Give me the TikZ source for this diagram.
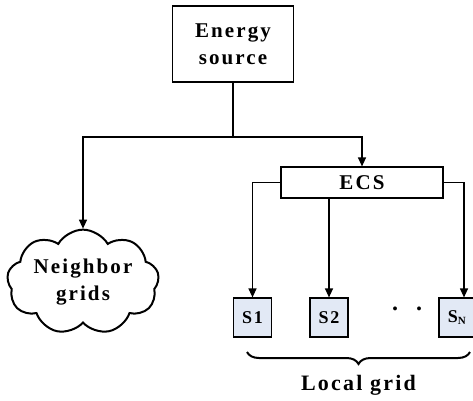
\documentclass[tikz,border=0pt]{standalone}
\usepackage{fontspec}
\setmainfont{Liberation Serif}[LetterSpace=10]
\usetikzlibrary{shapes.symbols,arrows.meta,decorations.pathreplacing}
\definecolor{sfill}{HTML}{E2E9F5}
\begin{document}
\begin{tikzpicture}[x=1pt,y=-1pt,
  every node/.style={font=\bfseries\fontsize{21}{27}\selectfont},
  box/.style={draw,line width=1.2pt,inner sep=0pt},
  sbox/.style={box,fill=sfill,minimum width=38pt,minimum height=39pt,font=\bfseries\fontsize{18}{18}\selectfont},
  conn/.style={line width=1.2pt},
  arr/.style={conn,-{Triangle[length=9pt,width=8pt]}}]
\useasboundingbox (0,0) rectangle (473,400);
\node[box,minimum width=121pt,minimum height=76pt,align=center] (es) at (233,44) {Energy\\source};
\node[box,minimum width=162pt,minimum height=31pt] (ecs) at (362,182.5) {ECS};
\node[cloud,draw,line width=2pt,cloud puffs=9,cloud puff arc=120,minimum width=152pt,minimum height=92pt,aspect=1.7,align=center,inner sep=0pt] (ng) at (83,282) {Neighbor\\grids};
\node[sbox] (s1) at (252.5,317.5) {S1};
\node[sbox] (s2) at (329,317.5) {S2};
\node[sbox,minimum width=36pt] (sn) at (457,317.5) {S\textsubscript{\fontsize{11}{11}\selectfont N}};
\node[font=\bfseries\fontsize{24}{24}\selectfont] (d1) at (395,309) {.};
\node[font=\bfseries\fontsize{24}{24}\selectfont] (d2) at (419,309) {.};
\coordinate (j) at (233,137);
\draw[conn] (es.south) -- (j);
\draw[arr] (j) -| (ng.north);
\draw[arr] (j) -| (ecs.north);
\draw[arr] (ecs.west) -| (s1.north);
\draw[arr] (ecs.south -| s2.north) -- (s2.north);
\draw[arr] (ecs.east) -| ([xshift=7pt]sn.north);
\draw[conn,line width=2pt,decorate,decoration={brace,mirror,amplitude=12pt}] (247,352) -- (470,352) node[midway,below=19pt,font=\bfseries\fontsize{22}{22}\selectfont] (lg) {Local grid};
\end{tikzpicture}
\end{document}
